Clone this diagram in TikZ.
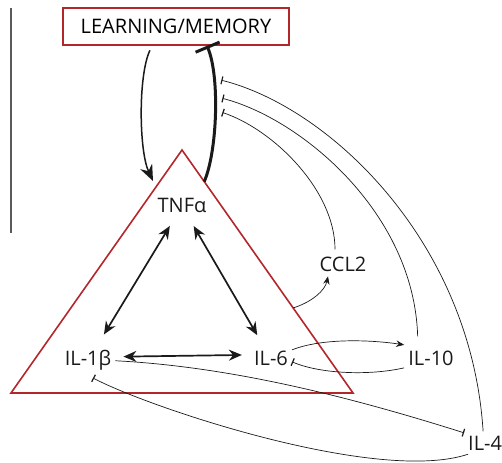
\documentclass[tikz,border=0pt]{standalone}
\usepackage{fontspec}
\setmainfont{Open Sans}
\usetikzlibrary{arrows.meta,calc,positioning}
\definecolor{Ink}{HTML}{1A1A1A}
\definecolor{Brick}{HTML}{B3262A}
\definecolor{Slate}{HTML}{5A5A5A}
\tikzset{
  cyto/.style={
    inner sep=4pt, anchor=base, text=Ink,
    font=\fontsize{20}{24}\selectfont
  },
  frame/.style={
    draw=Brick, line width=1.6pt, inner sep=0pt,
    minimum width=226pt, minimum height=37pt,
    font=\fontsize{20}{24}\selectfont
  },
  mutual/.style={{Stealth[length=13pt,width=11pt]}-{Stealth[length=13pt,width=11pt]}, line width=1.7pt, draw=Ink},
  drive/.style={-{Stealth[length=16pt,width=13pt]}, line width=1.5pt, draw=Ink},
  thinflow/.style={-{Stealth[length=8pt,width=6.5pt]}, line width=0.7pt, draw=Ink},
  thinblock/.style={-{Bar[width=8pt,line width=1.2pt]}, line width=0.7pt, draw=Ink},
  heavyblock/.style={-{Bar[width=26pt]}, line width=3pt, draw=Ink}
}

\begin{document}
\begin{tikzpicture}[x=1pt,y=1pt]
    \useasboundingbox (0,0) rectangle (502,462);
    \draw[Slate,line width=1.2pt] (11,229) -- (11,454);
    % triangle of cytokines
    \coordinate (apex) at (182,312);
    \coordinate (bl) at (11,69);
    \coordinate (br) at (353,69);
    \draw[Brick,line width=1.6pt] (apex) -- (bl) -- (br) -- cycle;
    \node[frame] (mem) at (176,435.5) {LEARNING/MEMORY};
    \node[cyto] (tnf) at (182,249) {TNFα};
    \node[cyto] (il1b) at (88,96) {IL-1β};
    \node[cyto] (il6) at (271,96) {IL-6};
    \node[cyto] (il10) at (431,96) {IL-10};
    \node[cyto] (ccl2) at (343,190) {CCL2};
    \node[cyto,anchor=base west] (il4) at (464,12) {IL-4};
    \coordinate (entry) at (153,281);
    \draw[mutual,shorten <=10pt,shorten >=14pt] (tnf) -- (il1b);
    \draw[mutual,shorten <=10pt,shorten >=14pt] (tnf) -- (il6);
    \draw[mutual,shorten <=8pt,shorten >=8pt]
      ([yshift=4pt]il1b.east) -- ([yshift=4pt]il6.west);
    % loop with learning
    \draw[drive,shorten <=5pt] ([xshift=-24pt]mem.south)
      .. controls +(-14,-30) and +(-14,30) .. (entry);
    \draw[heavyblock] ($(apex)!0.13!(br)$)
      .. controls +(13,30) and +(13,-31) .. ([xshift=31pt]mem.south)
      coordinate[pos=0.72] (hit4) coordinate[pos=0.6] (hit10)
      coordinate[pos=0.51] (hitccl);
    \draw[thinblock] ([xshift=-2pt]il4.north)
      .. controls +(-12,190) and +(108,-27) .. ([xshift=7pt]hit4);
    \draw[thinblock,shorten <=11pt] ([xshift=-13pt]il10.north)
      .. controls +(-4,135) and +(78,-20) .. ([xshift=7pt]hit10);
    \draw[thinblock,shorten <=4pt] ([xshift=-8pt]ccl2.north)
      .. controls +(0,63) and +(51,-17) .. ([xshift=7pt]hitccl);
    % side branches
    \draw[thinflow] ($(apex)!0.65!(br)$)
      .. controls +(19,6) and +(-3,-14) .. ([xshift=-15pt]ccl2.south);
    \draw[thinflow] ([yshift=9pt]il6.east)
      .. controls +(30,12) and +(-33,5) .. ([yshift=14pt]il10.west);
    \draw[thinblock] ([yshift=-9pt]il10.west)
      .. controls +(-35,-8) and +(28,-12) .. ([yshift=-3pt]il6.east);
    \draw[thinblock] (il1b.east)
      .. controls +(116,-6) and +(-114,36) .. ([yshift=10pt]il4.west);
    \draw[thinblock] ([xshift=-17pt]il4.south)
      .. controls +(-90,-30) and +(57,-30) .. ([xshift=5pt,yshift=-3pt]il1b.south);
\end{tikzpicture}
\end{document}
